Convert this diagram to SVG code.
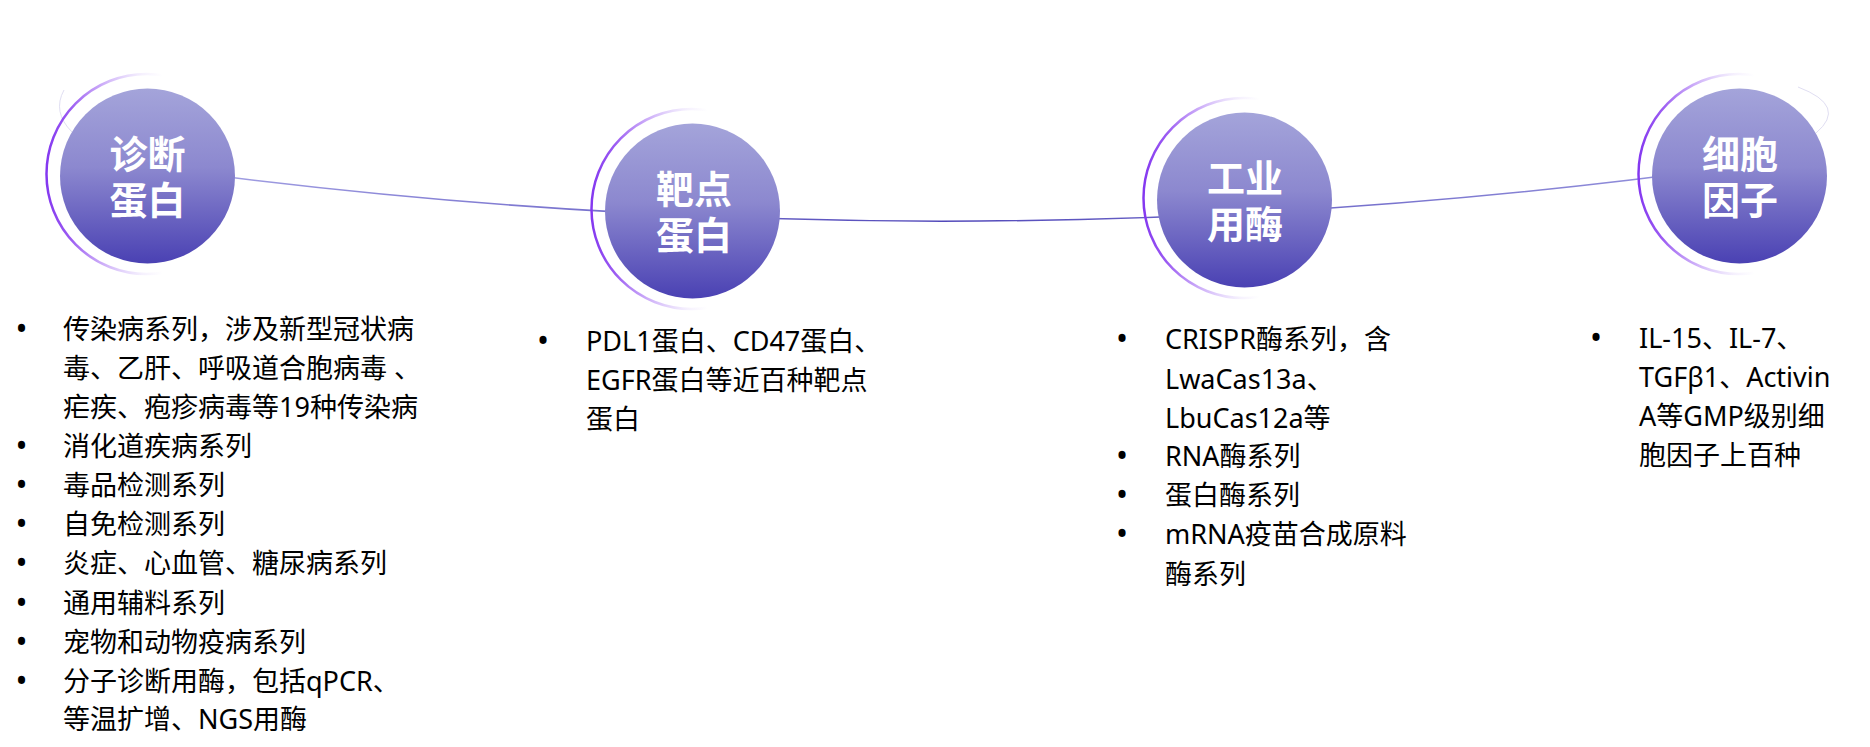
<svg xmlns="http://www.w3.org/2000/svg" width="1870" height="747" viewBox="0 0 1870 747">
  <defs>
    <linearGradient id="ballGrad" x1="0" y1="0" x2="0" y2="1">
      <stop offset="0" stop-color="#a4a4da"/>
      <stop offset="0.45" stop-color="#8c88cf"/>
      <stop offset="1" stop-color="#4a41b3"/>
    </linearGradient>
    <linearGradient id="ringGrad" x1="0" y1="0" x2="1" y2="0">
      <stop offset="0" stop-color="#8438f0" stop-opacity="1"/>
      <stop offset="0.12" stop-color="#8a3ff0" stop-opacity="0.85"/>
      <stop offset="0.3" stop-color="#9a5cf2" stop-opacity="0.45"/>
      <stop offset="0.48" stop-color="#b08af4" stop-opacity="0.12"/>
      <stop offset="0.58" stop-color="#b08af4" stop-opacity="0"/>
      <stop offset="1" stop-color="#b08af4" stop-opacity="0"/>
    </linearGradient>
    <linearGradient id="lineGrad" gradientUnits="userSpaceOnUse" x1="147" y1="0" x2="1739" y2="0">
      <stop offset="0" stop-color="#a8a6e6"/>
      <stop offset="0.5" stop-color="#5249ba"/>
      <stop offset="1" stop-color="#9896de"/>
    </linearGradient>
  </defs>
  <style>
    .ball { fill: url(#ballGrad); }
    .ring { fill: none; stroke: url(#ringGrad); stroke-width: 2.5; }
    .wisp { fill: none; stroke: #e0def2; stroke-width: 1; }
    .title { font-family: "Noto Sans CJK SC", "Noto Sans", sans-serif; font-weight: 700; font-size: 38px; fill: #ffffff; text-anchor: middle; }
    .item { font-family: "Noto Sans", "Noto Sans CJK SC", sans-serif; font-size: 27px; fill: #000000; }
    .bullet { font-family: "Noto Sans", "Liberation Sans", sans-serif; font-size: 32px; fill: #000000; text-anchor: middle; }
    .conn { fill: none; stroke: url(#lineGrad); stroke-width: 1.5; }
  </style>
  <rect width="1870" height="747" fill="#ffffff"/>

  <g id="connectors">
    <path class="conn" d="M147,166.5 Q943,276 1739,166"/>
  </g>

  <g id="node-diagnostic">
    <path class="wisp" d="M64,90 Q52,112 72,132"/>
    <circle class="ring" cx="146.5" cy="174" r="100"/>
    <circle class="ball" cx="147.5" cy="176" r="87.5"/>
    <text class="title" x="147.5" y="167.5">诊断<tspan x="147.5" dy="46">蛋白</tspan></text>
  </g>

  <g id="node-target">
    <circle class="ring" cx="691.5" cy="209" r="100"/>
    <circle class="ball" cx="692.5" cy="211" r="87.5"/>
    <text class="title" x="694" y="202.5">靶点<tspan x="694" dy="46">蛋白</tspan></text>
  </g>

  <g id="node-enzyme">
    <circle class="ring" cx="1243.5" cy="198" r="100"/>
    <circle class="ball" cx="1244.5" cy="200" r="87.5"/>
    <text class="title" x="1245" y="191.5">工业<tspan x="1245" dy="46">用酶</tspan></text>
  </g>

  <g id="node-cytokine">
    <path class="wisp" d="M1798,87 Q1848,106 1816,133"/>
    <circle class="ring" cx="1738.5" cy="174" r="100"/>
    <circle class="ball" cx="1739.5" cy="176" r="87.5"/>
    <text class="title" x="1740" y="167.5">细胞<tspan x="1740" dy="46">因子</tspan></text>
  </g>

  <g id="list-diagnostic">
    <text class="bullet" x="21.5" y="340">•</text>
    <text class="item" x="63" y="339">传染病系列，涉及新型冠状病</text>
    <text class="item" x="63" y="378">毒、乙肝、呼吸道合胞病毒 、</text>
    <text class="item" x="63" y="417">疟疾、疱疹病毒等19种传染病</text>
    <text class="bullet" x="21.5" y="457">•</text>
    <text class="item" x="63" y="456">消化道疾病系列</text>
    <text class="bullet" x="21.5" y="496">•</text>
    <text class="item" x="63" y="495">毒品检测系列</text>
    <text class="bullet" x="21.5" y="535">•</text>
    <text class="item" x="63" y="534">自免检测系列</text>
    <text class="bullet" x="21.5" y="574">•</text>
    <text class="item" x="63" y="573">炎症、心血管、糖尿病系列</text>
    <text class="bullet" x="21.5" y="614">•</text>
    <text class="item" x="63" y="613">通用辅料系列</text>
    <text class="bullet" x="21.5" y="653">•</text>
    <text class="item" x="63" y="652">宠物和动物疫病系列</text>
    <text class="bullet" x="21.5" y="692">•</text>
    <text class="item" x="63" y="691">分子诊断用酶，包括qPCR、</text>
    <text class="item" x="63" y="729">等温扩增、NGS用酶</text>
  </g>

  <g id="list-target">
    <text class="bullet" x="543" y="352">•</text>
    <text class="item" x="586" y="351">PDL1蛋白、CD47蛋白、</text>
    <text class="item" x="586" y="390">EGFR蛋白等近百种靶点</text>
    <text class="item" x="586" y="429">蛋白</text>
  </g>

  <g id="list-enzyme">
    <text class="bullet" x="1122" y="350">•</text>
    <text class="item" x="1165" y="349">CRISPR酶系列，含</text>
    <text class="item" x="1165" y="389">LwaCas13a、</text>
    <text class="item" x="1165" y="428">LbuCas12a等</text>
    <text class="bullet" x="1122" y="467">•</text>
    <text class="item" x="1165" y="466">RNA酶系列</text>
    <text class="bullet" x="1122" y="506">•</text>
    <text class="item" x="1165" y="505">蛋白酶系列</text>
    <text class="bullet" x="1122" y="545">•</text>
    <text class="item" x="1165" y="544">mRNA疫苗合成原料</text>
    <text class="item" x="1165" y="584">酶系列</text>
  </g>

  <g id="list-cytokine">
    <text class="bullet" x="1596" y="349">•</text>
    <text class="item" x="1639" y="348">IL-15、IL-7、</text>
    <text class="item" x="1639" y="387">TGFβ1、Activin</text>
    <text class="item" x="1639" y="426">A等GMP级别细</text>
    <text class="item" x="1639" y="465">胞因子上百种</text>
  </g>
</svg>
